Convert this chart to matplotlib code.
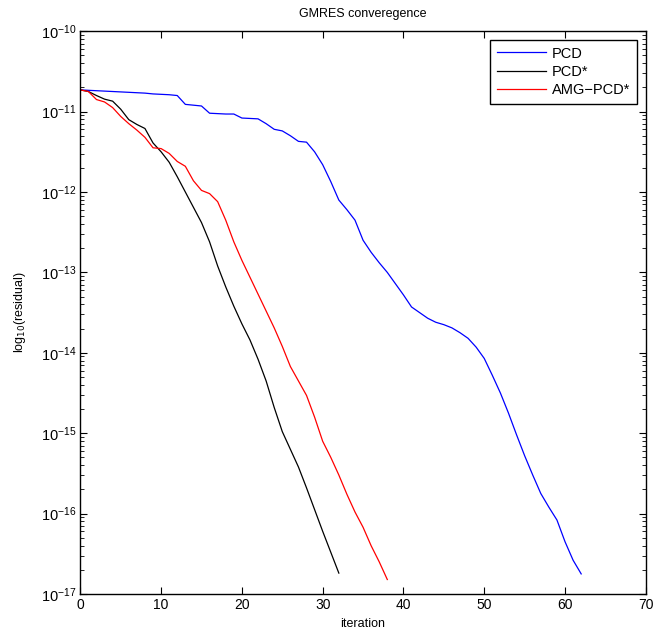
import matplotlib
matplotlib.use("Agg")
import matplotlib.pyplot as plt
import numpy as np

# log10 of the residual, one value per iteration
pcd_log = [-10.73, -10.735, -10.74, -10.745, -10.75, -10.755, -10.76, -10.765, -10.77, -10.78,
           -10.785, -10.79, -10.80, -10.91, -10.92, -10.93, -11.02, -11.025, -11.03, -11.03,
           -11.08, -11.085, -11.09, -11.15, -11.22, -11.24, -11.30, -11.37, -11.38, -11.50,
           -11.66, -11.87, -12.10, -12.22, -12.35, -12.60, -12.75, -12.88, -13.00, -13.14,
           -13.28, -13.43, -13.50, -13.57, -13.62, -13.65, -13.69, -13.75, -13.82, -13.93,
           -14.07, -14.28, -14.50, -14.75, -15.02, -15.28, -15.52, -15.75, -15.92, -16.08,
           -16.35, -16.58, -16.75]
pcdstar_log = [-10.73, -10.75, -10.80, -10.845, -10.87, -10.97, -11.10, -11.16, -11.21, -11.39,
               -11.50, -11.63, -11.81, -12.00, -12.19, -12.38, -12.62, -12.92, -13.18, -13.42,
               -13.64, -13.84, -14.08, -14.35, -14.68, -14.98, -15.20, -15.42, -15.68, -15.95,
               -16.22, -16.48, -16.74]
amg_log = [-10.73, -10.75, -10.85, -10.88, -10.95, -11.06, -11.15, -11.23, -11.32, -11.45,
           -11.46, -11.52, -11.62, -11.68, -11.86, -11.98, -12.02, -12.12, -12.35, -12.62,
           -12.85, -13.06, -13.27, -13.48, -13.69, -13.92, -14.17, -14.35, -14.53, -14.80,
           -15.10, -15.30, -15.52, -15.76, -15.98, -16.17, -16.40, -16.60, -16.82]
labels = ['PCD', 'PCD*', 'AMG\u2212PCD*']
decades = list(range(-17, -9))

plt.rcParams['font.family'] = ['Liberation Sans', 'DejaVu Sans']

fig = plt.figure(figsize=(6.53, 6.37), dpi=100)
ax = fig.add_axes([0.123, 0.0675, 0.866, 0.8835])

ax.semilogy(np.arange(len(pcd_log)), 10.0 ** np.array(pcd_log), color='b', lw=0.9, label=labels[0])
ax.semilogy(np.arange(len(pcdstar_log)), 10.0 ** np.array(pcdstar_log), color='k', lw=0.9, label=labels[1])
ax.semilogy(np.arange(len(amg_log)), 10.0 ** np.array(amg_log), color='r', lw=0.9, label=labels[2])

ax.set_xlim(0, 70)
ax.set_ylim(1e-17, 1e-10)
ax.set_xticks(range(0, 71, 10))
ax.set_yticks([10.0 ** d for d in decades])
ax.set_yticklabels([r'$\mathdefault{10^{%d}}$' % d for d in decades])
ax.set_yticks([k * 10.0 ** d for d in decades[:-1] for k in range(2, 10)], minor=True)
ax.yaxis.set_minor_formatter(matplotlib.ticker.NullFormatter())
ax.tick_params(which='both', direction='in', top=True, right=True, pad=3)
ax.tick_params(axis='x', labelsize=10)
ax.tick_params(axis='y', labelsize=10.5)
ax.tick_params(which='major', length=5)
ax.tick_params(which='minor', length=3)
for s in ax.spines.values():
    s.set_linewidth(1.0)

ax.set_title('GMRES converegence', fontsize=9, pad=10)
ax.set_xlabel('iteration', fontsize=9, labelpad=4)
ax.set_ylabel('log$_{10}$(residual)', fontsize=9, labelpad=9)

leg = ax.legend(loc='upper right', fontsize=10.5, fancybox=False, framealpha=1,
                borderaxespad=0.6, handlelength=3.4, handletextpad=0.4,
                borderpad=0.45, labelspacing=0.3)
leg.get_frame().set_edgecolor('k')
leg.get_frame().set_linewidth(1.0)

fig.savefig('out.png', dpi=100)
